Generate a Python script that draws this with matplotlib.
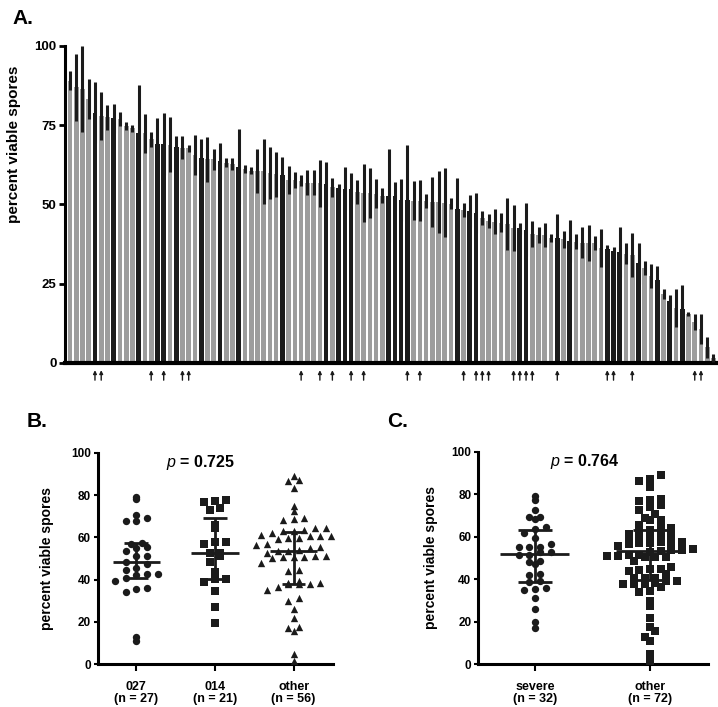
import numpy as np
import matplotlib
matplotlib.use("Agg")
import matplotlib.pyplot as plt

plt.rcParams["font.family"] = ["Liberation Sans", "DejaVu Sans"]
plt.rcParams["mathtext.fontset"] = "custom"
plt.rcParams["mathtext.it"] = "Liberation Sans:italic"

# ---------- data ----------
# mean percent viable spores per strain, ranked high -> low (panel A)
viable_mean = [
    89.0, 87.0, 86.4, 83.2, 79.0, 77.9, 77.5, 77.2, 76.9, 74.8,
    74.0, 72.7, 72.4, 70.5, 69.1, 69.1, 68.8, 68.2, 67.9, 67.7,
    65.6, 64.6, 64.2, 64.2, 63.7, 63.2, 62.8, 61.9, 61.3, 60.7,
    60.5, 60.4, 59.9, 59.5, 59.2, 57.7, 57.7, 57.5, 56.9, 56.9,
    56.7, 56.5, 55.5, 55.2, 55.0, 55.0, 54.0, 53.6, 53.6, 53.4,
    52.8, 52.8, 52.7, 51.4, 51.4, 51.2, 51.2, 51.1, 50.8, 50.7,
    50.5, 50.3, 48.5, 48.4, 47.9, 47.2, 45.6, 44.7, 44.6, 44.2,
    43.8, 42.6, 42.5, 42.0, 40.7, 40.5, 40.4, 39.4, 39.3, 39.0,
    38.5, 38.2, 37.9, 37.9, 37.8, 36.4, 36.0, 35.4, 35.0, 34.5,
    34.0, 31.4, 29.9, 27.3, 26.2, 21.7, 19.7, 17.4, 17.1, 15.5,
    12.9, 10.8, 4.9, 1.6,
]
viable_err = [
    3.0, 10.6, 13.6, 6.3, 9.7, 7.6, 4.0, 4.5, 2.2, 1.3,
    1.0, 15.0, 6.1, 2.4, 8.1, 9.9, 8.7, 3.4, 3.7, 1.0,
    6.2, 6.1, 7.0, 3.3, 5.8, 1.4, 2.0, 11.8, 1.3, 1.0,
    7.0, 10.2, 8.1, 7.0, 5.9, 4.4, 2.4, 1.8, 3.9, 3.9,
    7.4, 7.0, 3.0, 1.3, 6.7, 4.8, 3.7, 9.1, 7.9, 4.6,
    2.4, 14.7, 4.3, 6.5, 17.2, 6.1, 6.4, 2.1, 8.0, 9.7,
    10.9, 1.7, 10.0, 2.2, 5.0, 6.3, 2.2, 2.2, 4.0, 3.0,
    8.1, 7.2, 1.8, 8.4, 4.2, 2.5, 3.7, 1.2, 7.7, 2.6,
    6.5, 2.4, 4.9, 5.6, 2.3, 6.0, 1.3, 1.1, 8.0, 3.3,
    6.9, 6.6, 2.3, 3.8, 4.5, 1.6, 1.8, 5.9, 7.5, 0.7,
    2.5, 4.8, 3.2, 1.3,
]
# strain ranks (1-based, position in panel A)
ribotype_027 = [5, 6, 14, 16, 19, 20, 38, 41, 43, 46, 48, 55, 57, 64, 66,
                67, 68, 72, 73, 74, 75, 79, 87, 88, 91, 101, 102]
ribotype_014 = [7, 8, 9, 11, 12, 21, 24, 36, 37, 39, 51, 52, 56, 63, 71,
                76, 77, 80, 90, 94, 97]
severe_cases = [5, 8, 12, 15, 16, 18, 22, 25, 28, 35, 42, 44, 45, 46, 52,
                53, 54, 55, 63, 65, 66, 73, 74, 79, 81, 87, 88, 89, 92, 95,
                97, 99]

ribo_labels = ["027\n(n = 27)", "014\n(n = 21)", "other\n(n = 56)"]
sev_labels = ["severe\n(n = 32)", "other\n(n = 72)"]
p_ribo = "0.725"
p_sev = "0.764"

vals = np.array(viable_mean)
ranks = np.arange(1, len(vals) + 1)
in027 = np.isin(ranks, ribotype_027)
in014 = np.isin(ranks, ribotype_014)
sev = np.isin(ranks, severe_cases)

GREY = "#9d9d9d"
DARK = "#1b1b1b"

fig = plt.figure(figsize=(7.18, 7.07), dpi=100)

# ---------- A ----------
axA = fig.add_axes([0.0905, 0.4866, 0.9067, 0.4484])
x = np.arange(len(vals))
colors = [DARK if s else GREY for s in sev]
axA.bar(x, vals, width=0.75, color=colors, zorder=2)
axA.errorbar(x, vals, yerr=viable_err, fmt="none", ecolor=DARK, elinewidth=2.2,
             capsize=0, zorder=3, clip_on=False)
axA.set_xlim(-0.8, len(vals) - 0.6)
axA.set_ylim(0, 100)
axA.set_yticks([0, 25, 50, 75, 100])
axA.set_xticks([])
for sp in ["top", "right"]:
    axA.spines[sp].set_visible(False)
axA.spines["left"].set_linewidth(2.2)
axA.spines["bottom"].set_linewidth(3)
axA.tick_params(axis="y", length=4, width=2, labelsize=9.5, pad=2)
for t in axA.get_yticklabels():
    t.set_fontweight("bold")
axA.set_ylabel("percent viable spores", fontsize=11, fontweight="bold")
axA.yaxis.set_label_coords(-0.068, 0.69)
for i in x[in027]:
    axA.annotate("", xy=(i, -1.4), xytext=(i, -6.3),
                 arrowprops=dict(arrowstyle="-|>", lw=1, color=DARK, mutation_scale=5),
                 annotation_clip=False)


# ---------- B / C ----------
def swarm(v, px_per_unit, bin_units, step_px=10.7):
    v = np.asarray(v)
    offs = np.zeros(len(v))
    bins = np.round(v / bin_units)
    for b in np.unique(bins):
        idx = np.where(bins == b)[0]
        idx = idx[np.argsort(v[idx])]
        k = len(idx)
        offs[idx] = (np.arange(k) - (k - 1) / 2) * step_px / px_per_unit
    return offs


def dot_panel(ax, groups, markers, labels, xlim, ptext, px_per_unit, bin_units):
    for gi, (g, m) in enumerate(zip(groups, markers)):
        ox = swarm(g, px_per_unit, bin_units)
        ax.scatter(gi + ox, g, marker=m, s=28, color=DARK, linewidths=0, zorder=3,
                   clip_on=False)
        q1, med, q3 = np.percentile(g, [25, 50, 75], method="weibull")
        ax.hlines(med, gi - 0.3, gi + 0.3, color=DARK, lw=2, zorder=4)
        ax.hlines([q1, q3], gi - 0.15, gi + 0.15, color=DARK, lw=2, zorder=4)
        ax.vlines(gi, q1, q3, color=DARK, lw=2, zorder=4)
    ax.set_xlim(*xlim)
    ax.set_ylim(0, 100)
    ax.set_yticks(range(0, 101, 20))
    ax.set_xticks(range(len(groups)))
    ax.set_xticklabels(labels, fontsize=9, fontweight="bold", linespacing=0.95)
    for sp in ["top", "right"]:
        ax.spines[sp].set_visible(False)
    ax.spines["left"].set_linewidth(2.2)
    ax.spines["bottom"].set_linewidth(2.2)
    ax.tick_params(axis="y", length=3, width=1.5, labelsize=8.5, pad=2)
    ax.tick_params(axis="x", length=5, width=1.5, pad=7)
    for t in ax.get_yticklabels():
        t.set_fontweight("bold")
    ax.set_ylabel("percent viable spores", fontsize=10, fontweight="bold")
    ax.text(ptext[0], ptext[1], r"$\mathit{p}$ = " + ptext[2], ha="center",
            va="center", fontsize=11.5, fontweight="bold")


axB = fig.add_axes([0.1361, 0.0604, 0.3277, 0.2993])
grpB = [vals[in027], vals[in014], vals[~in027 & ~in014]]
dot_panel(axB, grpB, ["o", "s", "^"], ribo_labels, (-0.49, 2.5),
          (0.82, 95.5, p_ribo), 78.5, 4.5)
axB.yaxis.set_label_coords(-0.186, 0.5)

axC = fig.add_axes([0.6662, 0.0604, 0.3203, 0.3007])
grpC = [vals[sev], vals[~sev]]
dot_panel(axC, grpC, ["o", "s"], sev_labels, (-0.49, 1.505),
          (0.43, 95.5, p_sev), 115.3, 3.5)
axC.yaxis.set_label_coords(-0.177, 0.5)

fig.text(12 / 718, 1 - 18 / 707, "A.", fontsize=15, fontweight="bold", va="center")
fig.text(27 / 718, 1 - 422 / 707, "B.", fontsize=15, fontweight="bold", va="center")
fig.text(387 / 718, 1 - 422 / 707, "C.", fontsize=15, fontweight="bold", va="center")

fig.savefig("out.png", dpi=100)
